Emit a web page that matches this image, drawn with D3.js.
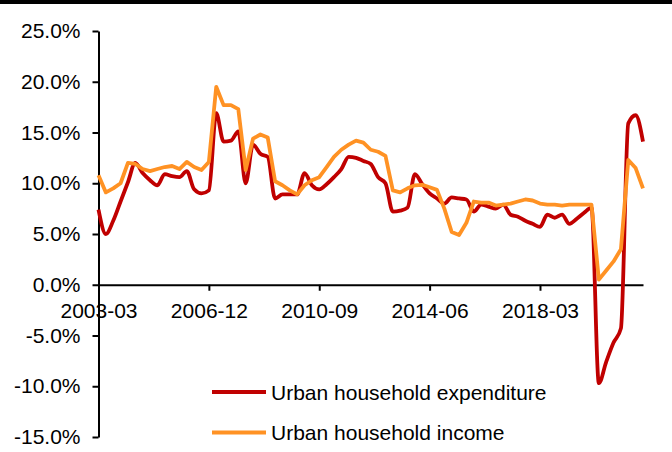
<!DOCTYPE html>
<html>
<head>
<meta charset="utf-8">
<script src="https://cdn.jsdelivr.net/npm/d3@7"></script>
<style>
  body { margin: 0; background: #fff; }
  text { font-family: "Liberation Sans", Arial, sans-serif; fill: #000; }
</style>
</head>
<body>
<div id="chart"></div>
<script>
// quarterly, 2003-03 .. 2021-09
const quarters = d3.range(75).map(i => (2003 + Math.floor(i / 4)) + "-" + String((i % 4 + 1) * 3).padStart(2, "0"));
const tickLabels = ["2003-03", "2006-12", "2010-09", "2014-06", "2018-03"];
const yTicks = [-15, -10, -5, 0, 5, 10, 15, 20, 25];

const expenditure = [
  7.4, 5.0, 6.3, 8.2, 10.1, 12.0, 11.0, 10.3, 9.8, 10.9,
  10.7, 10.6, 11.2, 9.4, 9.0, 9.3, 16.9, 14.1, 14.2, 15.1,
  10.0, 13.8, 12.9, 12.6, 8.5, 8.9, 8.9, 8.9, 11.0, 9.8,
  9.4, 9.9, 10.6, 11.4, 12.6, 12.5, 12.2, 11.9, 10.6, 10.0,
  7.2, 7.3, 7.6, 10.9, 9.9, 9.0, 8.5, 8.0, 8.6, 8.5,
  8.4, 7.2, 7.9, 7.7, 7.5, 7.9, 6.9, 6.7, 6.3, 6.0,
  5.7, 6.9, 6.6, 6.9, 6.0, 6.5, 7.1, 7.6, -9.7, -7.6,
  -5.7, -4.3, 15.9, 16.7, 14.1
];
const income = [
  10.8, 9.1, 9.5, 10.0, 12.0, 11.9, 11.4, 11.2, 11.4, 11.6,
  11.7, 11.4, 12.1, 11.6, 11.3, 12.1, 19.5, 17.7, 17.7, 17.3,
  11.3, 14.4, 14.8, 14.5, 10.2, 9.8, 9.3, 8.9, 9.8, 10.3,
  10.6, 11.6, 12.6, 13.3, 13.8, 14.2, 14.0, 13.3, 13.1, 12.7,
  9.3, 9.1, 9.5, 9.8, 9.85, 9.6, 9.35, 7.5, 5.2, 4.9,
  6.1, 8.2, 8.1, 8.1, 7.8, 7.9, 8.0, 8.2, 8.4, 8.3,
  8.0, 7.9, 7.9, 7.8, 7.9, 7.9, 7.9, 7.9, 0.5, 1.4,
  2.3, 3.5, 12.3, 11.5, 9.5
];

const seriesNames = ["Urban household expenditure", "Urban household income"];
const colors = ["#C00000", "#FF9224"];

const width = 672, height = 452;

const svg = d3.select("#chart")
  .append("svg")
  .attr("width", width)
  .attr("height", height);

// top rule
svg.append("rect")
  .attr("x", 0).attr("y", 0)
  .attr("width", width).attr("height", 4)
  .attr("fill", "#000");

const x = d3.scalePoint()
  .domain(quarters)
  .range([98.5, 643]);

const y = d3.scaleLinear()
  .domain([-15, 25])
  .range([437, 31]);

// x axis sits at 0%
const xAxis = svg.append("g")
  .attr("transform", `translate(0,${y(0)})`)
  .call(d3.axisBottom(x).tickValues(tickLabels).tickSize(6).tickSizeOuter(0).tickPadding(12));
xAxis.selectAll("text").style("font-size", "21px");
xAxis.selectAll("path, line").attr("stroke", "#000").attr("stroke-width", 2);

// y axis
const yAxis = svg.append("g")
  .attr("transform", "translate(98.5,0)")
  .call(d3.axisLeft(y).tickValues(yTicks).tickSize(6).tickSizeOuter(0).tickPadding(12)
    .tickFormat(d => d.toFixed(1) + "%"));
yAxis.selectAll("text").style("font-size", "21px");
yAxis.selectAll("path, line").attr("stroke", "#000").attr("stroke-width", 2);

const curves = [d3.curveMonotoneX, d3.curveLinear];

[expenditure, income].forEach((s, k) => {
  const line = d3.line()
    .curve(curves[k])
    .x((d, i) => x(quarters[i]))
    .y(d => y(d));
  svg.append("path")
    .datum(s)
    .attr("fill", "none")
    .attr("stroke", colors[k])
    .attr("stroke-width", 3.8)
    .attr("stroke-linejoin", "round")
    .attr("d", line);
});

// legend
const legend = svg.append("g");
seriesNames.forEach((name, k) => {
  const ly = 392 + k * 40.5;
  legend.append("line")
    .attr("x1", 212).attr("x2", 266)
    .attr("y1", ly).attr("y2", ly)
    .attr("stroke", colors[k])
    .attr("stroke-width", 3.8);
  legend.append("text")
    .attr("x", 271).attr("y", ly)
    .attr("dy", "0.36em")
    .style("font-size", "21px")
    .text(name);
});
</script>
</body>
</html>
